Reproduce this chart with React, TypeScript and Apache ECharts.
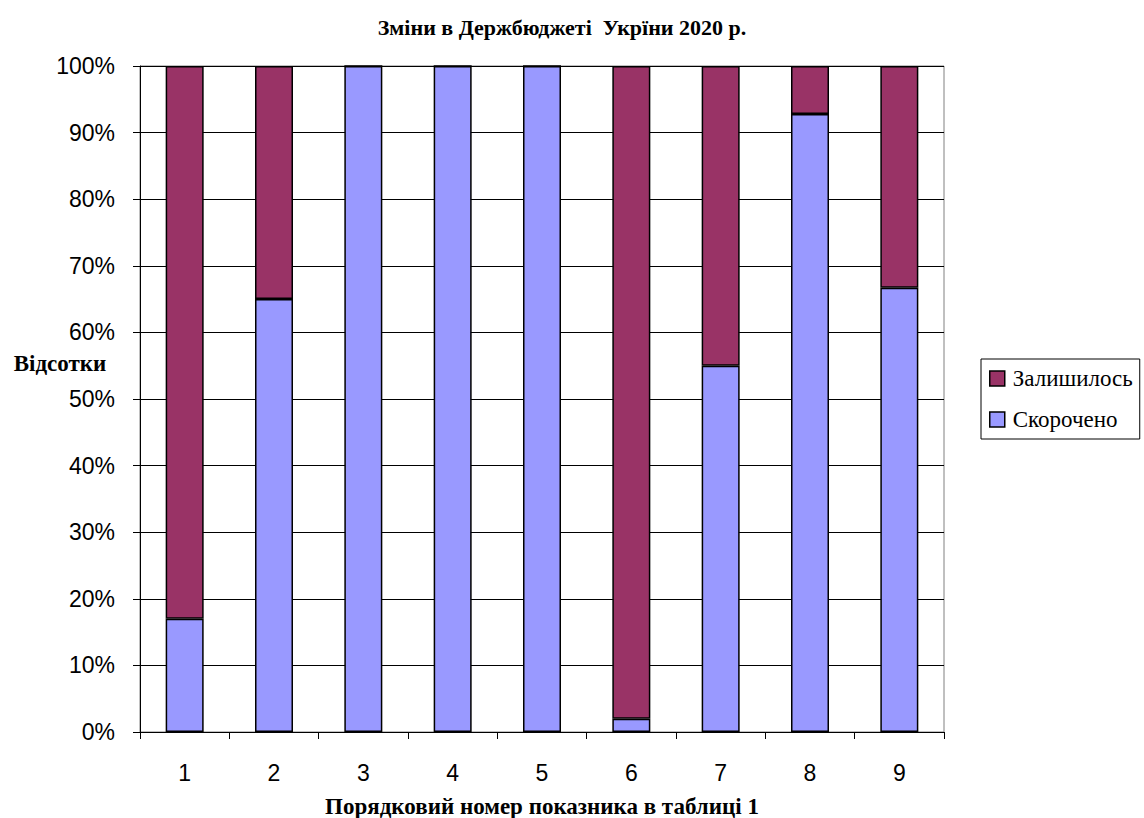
import React, { useEffect, useRef } from "react";
import * as echarts from "echarts";

const categories = ["1", "2", "3", "4", "5", "6", "7", "8", "9"];
const reducedValues = [17, 65, 100, 100, 100, 2, 55, 92.8, 66.7];
const remainingValues = [83, 35, 0, 0, 0, 98, 45, 7.2, 33.3];
const seriesNames = ["Залишилось", "Скорочено"];
const titleText = "Зміни в Держбюджеті  Укрїни 2020 р.";
const xName = "Порядковий номер показника в таблиці 1";
const yName = "Відсотки";

export default function App() {
  const ref = useRef<HTMLDivElement>(null);
  useEffect(() => {
    document.body.style.margin = "0";
    const chart = echarts.init(ref.current!, null, { renderer: "svg" });
    chart.setOption({
      animation: false,
      backgroundColor: "#ffffff",
      grid: {
        left: 140,
        right: 200,
        top: 66,
        bottom: 86,
        show: true,
        borderColor: "#808080",
        borderWidth: 1,
      },
      legend: {
        orient: "vertical",
        left: 981,
        top: 359,
        data: seriesNames,
        icon: "rect",
        itemWidth: 15,
        itemHeight: 15,
        itemGap: 18,
        padding: [8, 7, 8, 8],
        borderColor: "#000",
        borderWidth: 1,
        itemStyle: { borderColor: "#000", borderWidth: 1.5 },
        textStyle: { fontFamily: "Liberation Serif", fontSize: 23, color: "#000", padding: [0, 0, 0, 3] },
      },
      xAxis: {
        type: "category",
        data: categories,
        axisLine: { lineStyle: { color: "#000", width: 1 } },
        axisTick: { show: true, alignWithLabel: false, length: 7, lineStyle: { color: "#000" } },
        axisLabel: { fontFamily: "Liberation Sans", fontSize: 23, color: "#000", margin: 29 },
      },
      yAxis: {
        type: "value",
        min: 0,
        max: 100,
        interval: 10,
        axisLine: { show: true, lineStyle: { color: "#000", width: 1 } },
        axisTick: { show: true, length: 7, lineStyle: { color: "#000" } },
        axisLabel: { fontFamily: "Liberation Sans", fontSize: 23, color: "#000", formatter: "{value}%", margin: 25 },
        splitLine: { show: true, lineStyle: { color: "#000", width: 1 } },
      },
      graphic: [
        {
          type: "text",
          x: 562,
          y: 27,
          style: {
            text: titleText,
            fontFamily: "Liberation Serif",
            fontWeight: "bold",
            fontSize: 22,
            fill: "#000",
            textAlign: "center",
            textVerticalAlign: "middle",
          },
        },
        {
          type: "text",
          x: 60,
          y: 363,
          style: {
            text: yName,
            fontFamily: "Liberation Serif",
            fontWeight: "bold",
            fontSize: 23,
            fill: "#000",
            textAlign: "center",
            textVerticalAlign: "middle",
          },
        },
        {
          type: "text",
          x: 542,
          y: 806,
          style: {
            text: xName,
            fontFamily: "Liberation Serif",
            fontWeight: "bold",
            fontSize: 23,
            fill: "#000",
            textAlign: "center",
            textVerticalAlign: "middle",
          },
        },
      ],
      series: [
        {
          name: seriesNames[1],
          type: "bar",
          stack: "total",
          barWidth: 38,
          data: reducedValues,
          itemStyle: { color: "#9999FF", borderColor: "#000", borderWidth: 1.5 },
        },
        {
          name: seriesNames[0],
          type: "bar",
          stack: "total",
          barWidth: 38,
          data: remainingValues,
          itemStyle: { color: "#993366", borderColor: "#000", borderWidth: 1.5 },
        },
      ],
    });
    return () => chart.dispose();
  }, []);
  return <div ref={ref} style={{ width: 1144, height: 818 }} />;
}
